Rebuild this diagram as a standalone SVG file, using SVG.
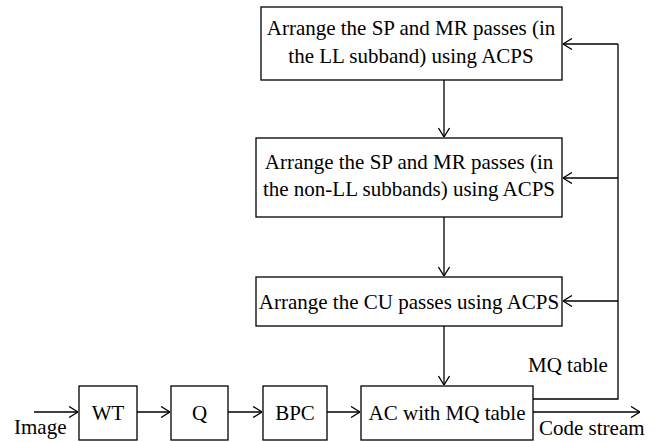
<svg xmlns="http://www.w3.org/2000/svg" width="661" height="442" viewBox="0 0 661 442">
<style>
.box{fill:#fff;stroke:#000;stroke-width:1.3}
.t{font-family:"Liberation Serif",serif;font-size:21px;fill:#000}
.c{text-anchor:middle}
.ln{fill:none;stroke:#000;stroke-width:1.3}
</style>
<defs>
<marker id="ar" viewBox="0 0 10 12" refX="10" refY="6" markerWidth="10" markerHeight="12" markerUnits="userSpaceOnUse" orient="auto">
<path d="M1,0.5 L10,6 L1,11.5" fill="none" stroke="#000" stroke-width="1.3"/>
</marker>
</defs>
<rect width="661" height="442" fill="#fff"/>
<g id="connectors">
<line class="ln" x1="444" y1="80" x2="444" y2="137" marker-end="url(#ar)"/>
<line class="ln" x1="444" y1="217" x2="444" y2="276" marker-end="url(#ar)"/>
<line class="ln" x1="444" y1="326" x2="444" y2="385" marker-end="url(#ar)"/>
<line class="ln" x1="34" y1="412" x2="78" y2="412" marker-end="url(#ar)"/>
<line class="ln" x1="137" y1="412" x2="170" y2="412" marker-end="url(#ar)"/>
<line class="ln" x1="228" y1="412" x2="262" y2="412" marker-end="url(#ar)"/>
<line class="ln" x1="327" y1="412" x2="360" y2="412" marker-end="url(#ar)"/>
<line class="ln" x1="533" y1="412" x2="640" y2="412" marker-end="url(#ar)"/>
<polyline class="ln" points="533,399 618,399 618,44"/>
<line class="ln" x1="618" y1="44" x2="563" y2="44" marker-end="url(#ar)"/>
<line class="ln" x1="618" y1="178" x2="563" y2="178" marker-end="url(#ar)"/>
<line class="ln" x1="618" y1="301" x2="563" y2="301" marker-end="url(#ar)"/>
<text class="t" x="528" y="372">MQ table</text>
<text class="t" x="539" y="435">Code stream</text>
<text class="t" x="14" y="434">Image</text>
</g>
<g id="box1">
<rect class="box" x="261" y="7" width="301" height="73"/>
<text class="t c" x="411" y="35">Arrange the SP and MR passes (in</text>
<text class="t c" x="411" y="63">the LL subband) using ACPS</text>
</g>
<g id="box2">
<rect class="box" x="256" y="138" width="306" height="79"/>
<text class="t c" x="409" y="169">Arrange the SP and MR passes (in</text>
<text class="t c" x="409" y="196">the non-LL subbands) using ACPS</text>
</g>
<g id="box3">
<rect class="box" x="256" y="277" width="306" height="49"/>
<text class="t c" x="409" y="309">Arrange the CU passes using ACPS</text>
</g>
<g id="wt">
<rect class="box" x="79" y="386" width="58" height="54"/>
<text class="t c" x="108" y="420">WT</text>
</g>
<g id="q">
<rect class="box" x="171" y="386" width="57" height="54"/>
<text class="t c" x="199.5" y="420">Q</text>
</g>
<g id="bpc">
<rect class="box" x="263" y="386" width="64" height="54"/>
<text class="t c" x="295" y="420">BPC</text>
</g>
<g id="ac">
<rect class="box" x="361" y="386" width="172" height="54"/>
<text class="t c" x="447" y="420">AC with MQ table</text>
</g>
</svg>
